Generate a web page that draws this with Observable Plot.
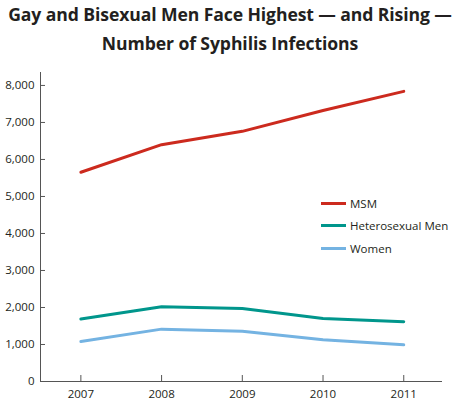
<!DOCTYPE html>
<html>
<head>
<meta charset="utf-8">
<script src="https://cdn.jsdelivr.net/npm/d3@7"></script>
<script src="https://cdn.jsdelivr.net/npm/@observablehq/plot@0.6"></script>
<style>
  body { margin: 0; background: #fff; font-family: "Open Sans", sans-serif; }
  #wrap { position: relative; width: 460px; height: 403px; }
  #title { height: 60px; text-align: center; font-weight: bold; font-size: 17.6px; line-height: 29px; color: #231f20; padding-top: 0; box-sizing: border-box; letter-spacing: -0.1px; }
  #legend { position: absolute; left: 321px; top: 192px; font-size: 11.5px; color: #231f20; }
  #legend div { height: 22.5px; display: flex; align-items: center; }
  #legend span.sw { display: inline-block; width: 25px; height: 3px; margin-right: 4px; }
</style>
</head>
<body>
<div id="wrap">
  <div id="title">Gay and Bisexual Men Face Highest — and Rising —<br>Number of Syphilis Infections</div>
  <div id="chart"></div>
  <div id="legend"></div>
</div>
<script>
// values
const years = [2007, 2008, 2009, 2010, 2011];
const msm = [5655, 6400, 6760, 7325, 7840];
const heteroMen = [1688, 2020, 1975, 1705, 1615];
const women = [1082, 1415, 1355, 1130, 990];
const seriesNames = ["MSM", "Heterosexual Men", "Women"];
const seriesColors = ["#cc2a1e", "#00968c", "#74b3e2"];
const yTicks = [0, 1000, 2000, 3000, 4000, 5000, 6000, 7000, 8000];

const rows = [];
[msm, heteroMen, women].forEach((vals, i) => {
  vals.forEach((v, j) => rows.push({year: years[j], value: v, series: seriesNames[i]}));
});

const plot = Plot.plot({
  width: 460,
  height: 343,
  marginTop: 12,
  marginBottom: 22,
  marginLeft: 40,
  marginRight: 18,
  style: {fontFamily: "Open Sans, sans-serif", fontSize: "11.5px", color: "#231f20", overflow: "visible"},
  x: {domain: [2006.5, 2011.48]},
  y: {domain: [0, 8350]},
  color: {domain: seriesNames, range: seriesColors},
  marks: [
    Plot.axisY({ticks: yTicks, tickSize: -5, tickPadding: 11, tickFormat: d3.format(","), label: null, stroke: "#555"}),
    Plot.axisX({ticks: years, tickSize: -6, tickPadding: 14, tickFormat: d => String(d), label: null, stroke: "#555"}),
    Plot.ruleY([0], {stroke: "#555"}),
    Plot.ruleX([2006.5], {stroke: "#555"}),
    Plot.line(rows, {x: "year", y: "value", z: "series", stroke: "series", strokeWidth: 3, strokeLinejoin: "round"})
  ]
});
document.getElementById("chart").append(plot);

const legend = d3.select("#legend");
seriesNames.forEach((name, i) => {
  const row = legend.append("div");
  row.append("span").attr("class", "sw").style("background", seriesColors[i]);
  row.append("span").text(name);
});
</script>
</body>
</html>
